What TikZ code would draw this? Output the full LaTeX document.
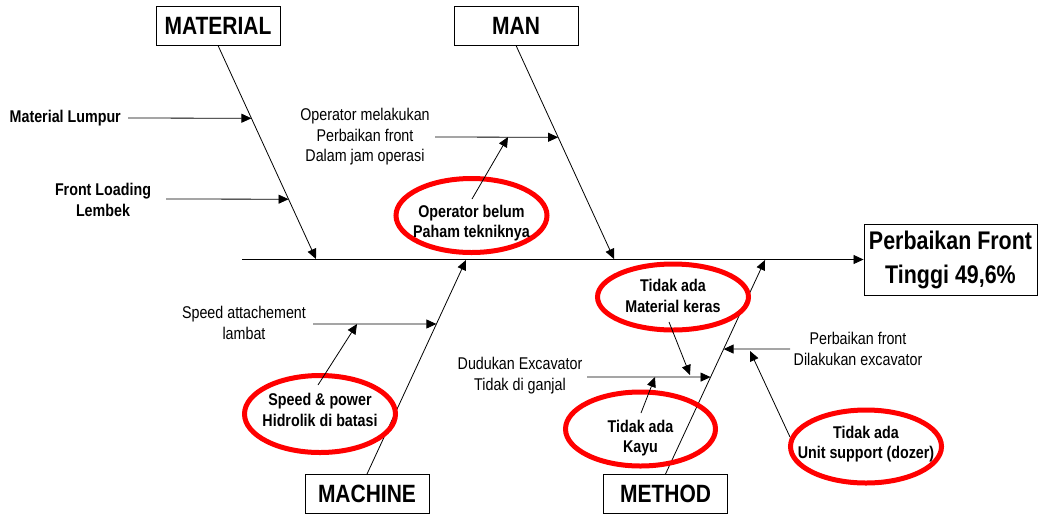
\documentclass[tikz,border=0pt]{standalone}
\usepackage{fontspec}
\setmainfont{Liberation Sans}[FakeStretch=0.84]
\usetikzlibrary{arrows.meta,calc,shapes.geometric}
\begin{document}
\begin{tikzpicture}[x=1pt,y=-1pt,
  catbox/.style={draw,line width=0.9pt,font=\fontsize{25}{31}\selectfont\bfseries,
    minimum width=124pt,minimum height=39pt,inner sep=0pt},
  effbox/.style={draw,line width=0.9pt,font=\fontsize{25.5}{34}\selectfont\bfseries,
    align=center,minimum width=173pt,minimum height=71pt,inner sep=0pt},
  cause/.style={font=\fontsize{17}{20.5}\selectfont,align=center,inner sep=0pt},
  causeb/.style={font=\fontsize{17}{20.5}\selectfont\bfseries,align=center,inner sep=0pt},
  rootring/.style={ellipse,draw=red,line width=5pt,inner sep=0pt,
    minimum width=151pt,minimum height=74pt},
  bone/.style={line width=0.8pt,-{Triangle[length=10pt,width=9pt]}},
]
\useasboundingbox (0,0) rectangle (1038,515);

% category boxes and effect
\node[catbox] (MATERIAL) at (218,25.5) {MATERIAL};
\node[catbox] (MAN) at (516,25.5) {MAN};
\node[catbox] (MACHINE) at (367,494) {MACHINE};
\node[catbox] (METHOD) at (665.5,494) {METHOD};
\node[effbox] (effect) at (950.5,259.5) {Perbaikan Front\\Tinggi 49,6\%};

% spine
\coordinate (spineStart) at (242,259.5);
\draw[bone] (spineStart) -- (effect.west);

% main bones
\coordinate (matTip) at (316,259);
\coordinate (manTip) at (614,259);
\coordinate (macTip) at (466,260);
\coordinate (metTip) at (765,260);
\draw[bone] (MATERIAL.south) -- (matTip);
\draw[bone] (MAN.south) -- (manTip);
\draw[bone] (MACHINE.north) -- (macTip);
\draw[bone] (METHOD.north) -- (metTip);

% points on the bones
\coordinate (mat1) at ($(MATERIAL.south)!0.341!(matTip)$);
\coordinate (mat2) at ($(MATERIAL.south)!0.720!(matTip)$);
\coordinate (man1) at ($(MAN.south)!0.430!(manTip)$);
\coordinate (mac1) at ($(MACHINE.north)!0.701!(macTip)$);
\coordinate (met1) at ($(METHOD.north)!0.453!(metTip)$);
\coordinate (met2) at ($(METHOD.north)!0.584!(metTip)$);

% MATERIAL causes
\node[causeb,anchor=east] (lumpur) at (121,118) {Material Lumpur};
\coordinate (lumpurS) at (128,118);
\draw[bone] (lumpurS) -- (mat1);
\node[causeb] (lembek) at (103,200) {Front Loading\\Lembek};
\coordinate (lembekS) at (166,199);
\draw[bone] (lembekS) -- (mat2);

% MAN causes
\node[cause] (opr) at (365,137) {Operator melakukan\\Perbaikan front\\Dalam jam operasi};
\coordinate (oprS) at (435,137);
\draw[bone] (oprS) -- (man1);
\node[rootring] (paham) at (471.5,215.5) {};
\node[causeb] at (471.5,223) {Operator belum\\Paham tekniknya};
\coordinate (pahamS) at (472,199);
\coordinate (pahamT) at (508,137);
\draw[bone] (pahamS) -- (pahamT);

% MACHINE causes
\node[cause] (attach) at (244,323) {Speed attachement\\lambat};
\coordinate (attachS) at (313,324);
\draw[bone] (attachS) -- (mac1);
\node[rootring,minimum height=77pt] (hidro) at (320,414) {};
\node[causeb] at (320,410) {Speed \& power\\Hidrolik di batasi};
\coordinate (hidroS) at (318,385);
\coordinate (hidroT) at (357,324);
\draw[bone] (hidroS) -- (hidroT);

% METHOD causes
\node[cause] (ganjal) at (520,375.5) {Dudukan Excavator\\Tidak di ganjal};
\coordinate (ganjalS) at (587,377);
\draw[bone] (ganjalS) -- (met1);
\node[cause] (dilakukan) at (858,349) {Perbaikan front\\Dilakukan excavator};
\coordinate (dilakukanS) at (790,349);
\draw[bone] (dilakukanS) -- (met2);

\node[rootring,minimum height=66pt] (keras) at (673,297) {};
\node[causeb] at (673,296) {Tidak ada\\Material keras};
\coordinate (kerasS) at (669,322);
\coordinate (kerasT) at (690,375);
\draw[bone] (kerasS) -- (kerasT);

\node[rootring,minimum width=150pt] (kayu) at (640.5,429) {};
\node[causeb] at (640.5,438) {Tidak ada\\Kayu};
\coordinate (kayuS) at (641,413);
\coordinate (kayuT) at (655,377);
\draw[bone] (kayuS) -- (kayuT);

\node[rootring,minimum height=73pt] (dozer) at (866,446.5) {};
\node[causeb] at (866,444) {Tidak ada\\Unit support (dozer)};
\coordinate (dozerS) at (790,437);
\coordinate (dozerT) at (750,351);
\draw[bone] (dozerS) -- (dozerT);
\end{tikzpicture}
\end{document}
